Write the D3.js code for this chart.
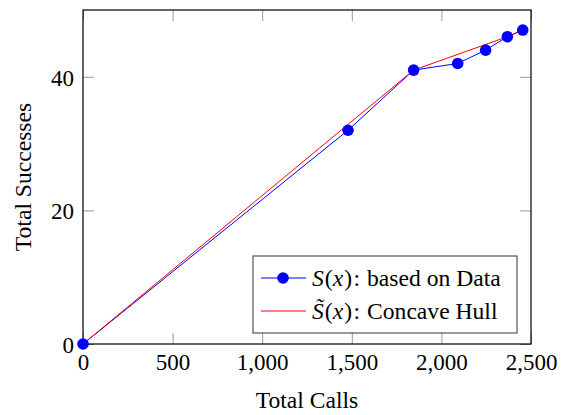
<!DOCTYPE html>
<html><head><meta charset="utf-8">
<script src="https://cdn.jsdelivr.net/npm/d3@7/dist/d3.min.js"></script>
<style>
html,body{margin:0;padding:0;background:#fff;}
svg{display:block;}
</style></head>
<body><svg id="chart" width="564" height="415"></svg>
<script>
const dataCalls = [0, 1479, 1845, 2091, 2247, 2368, 2454];
const dataSuccesses = [0, 32, 41, 42, 44, 46, 47];
const hullCalls = [0, 1845, 2368, 2454];
const hullSuccesses = [0, 41, 46, 47];
const xTicks = [0, 500, 1000, 1500, 2000, 2500];
const yTicks = [0, 20, 40];
const xLabel = "Total Calls";
const yLabel = "Total Successes";

const FF = "Liberation Serif";
const W = 564, H = 415;
const m = {left: 83, right: 33, top: 10, bottom: 71};
const svg = d3.select("#chart");
const x = d3.scaleLinear().domain([0, 2500]).range([m.left, W - m.right]);
const y = d3.scaleLinear().domain([0, 50]).range([H - m.bottom, m.top]);
const fs = 23;
const fsLab = 23.6;
const tickLen = 11;

const gb = svg.append("g").attr("transform", `translate(0,${y(0)})`)
  .call(d3.axisBottom(x).tickValues(xTicks).tickFormat(d3.format(",")).tickSizeInner(-tickLen).tickSizeOuter(0).tickPadding(10));
const gt = svg.append("g").attr("transform", `translate(0,${m.top})`)
  .call(d3.axisTop(x).tickValues(xTicks).tickFormat("").tickSizeInner(-tickLen).tickSizeOuter(0));
const gl = svg.append("g").attr("transform", `translate(${m.left},0)`)
  .call(d3.axisLeft(y).tickValues(yTicks).tickSizeInner(-tickLen).tickSizeOuter(0).tickPadding(9));
const gr = svg.append("g").attr("transform", `translate(${W - m.right},0)`)
  .call(d3.axisRight(y).tickValues(yTicks).tickFormat("").tickSizeInner(-tickLen).tickSizeOuter(0));
[gb, gt, gl, gr].forEach(g => {
  g.attr("font-family", FF).attr("font-size", fs);
  g.select(".domain").remove();
  g.selectAll(".tick line").attr("stroke", "#999").attr("stroke-width", 1);
  g.selectAll("text").attr("font-family", FF).attr("font-size", fs).attr("fill", "#000");
});
gl.selectAll("text").attr("dy", "0.36em");

svg.append("rect").attr("x", x(0)).attr("y", y(50)).attr("width", x(2500) - x(0)).attr("height", y(0) - y(50))
  .attr("fill", "none").attr("stroke", "#000").attr("stroke-width", 1.2);

const lineData = d3.line().x((d, i) => x(dataCalls[i])).y((d, i) => y(dataSuccesses[i]));
svg.append("path").datum(dataCalls).attr("d", lineData).attr("fill", "none").attr("stroke", "#0000ff").attr("stroke-width", 1);
const lineHull = d3.line().x((d, i) => x(hullCalls[i])).y((d, i) => y(hullSuccesses[i]));
svg.append("path").datum(hullCalls).attr("d", lineHull).attr("fill", "none").attr("stroke", "#ff0000").attr("stroke-width", 1);
svg.selectAll("circle.pt").data(dataCalls).enter().append("circle").attr("class", "pt")
  .attr("cx", (d, i) => x(dataCalls[i])).attr("cy", (d, i) => y(dataSuccesses[i])).attr("r", 5.8).attr("fill", "#0000ff");

svg.append("text").attr("x", (x(0) + x(2500)) / 2).attr("y", 408).attr("text-anchor", "middle")
  .attr("font-family", FF).attr("font-size", fsLab).text(xLabel);
svg.append("text").attr("transform", `translate(31,${(y(0) + y(50)) / 2}) rotate(-90)`).attr("text-anchor", "middle")
  .attr("font-family", FF).attr("font-size", fsLab).text(yLabel);

const lg = svg.append("g");
lg.append("rect").attr("x", 253).attr("y", 256).attr("width", 264).attr("height", 77)
  .attr("fill", "#fff").attr("stroke", "#333").attr("stroke-width", 1);
const rows = [
  {yc: 278, color: "#0000ff", marker: true, sym: "S", rest: "based on Data"},
  {yc: 311, color: "#ff0000", marker: false, sym: "S\u0303", rest: "Concave Hull"}
];
rows.forEach(r => {
  lg.append("line").attr("x1", 261).attr("x2", 306).attr("y1", r.yc).attr("y2", r.yc).attr("stroke", r.color).attr("stroke-width", 1);
  if (r.marker) lg.append("circle").attr("cx", 283).attr("cy", r.yc).attr("r", 5.8).attr("fill", r.color);
  const t = lg.append("text").attr("x", 312).attr("y", r.yc).attr("dy", "0.35em")
    .attr("font-family", FF).attr("font-size", fsLab);
  t.append("tspan").attr("font-style", "italic").text(r.sym);
  t.append("tspan").attr("dx", 1).text("(");
  t.append("tspan").attr("font-style", "italic").text("x");
  t.append("tspan").attr("dx", 1).text(")");
  t.append("tspan").attr("dx", 1.5).text(":");
  t.append("tspan").attr("dx", 7).text(r.rest);
});
</script></body></html>
